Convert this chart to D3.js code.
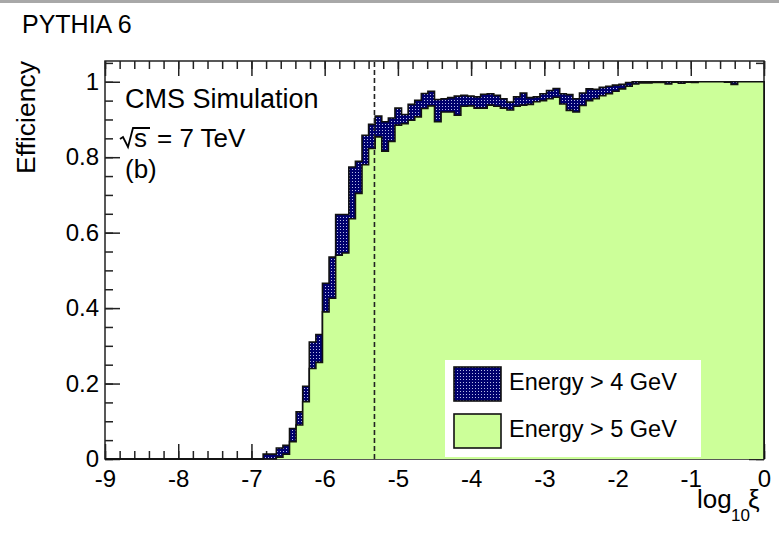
<!DOCTYPE html>
<html lang="en">
<head>
    <meta charset="UTF-8">
    <title>Efficiency vs log10 xi</title>
    <style>
        body { margin: 0; background: #fff; }
        svg text { font-family: "Liberation Sans", Arial, Helvetica, sans-serif; fill: #000; }
    </style>
</head>
<body>
<script src="https://d3js.org/d3.v7.min.js"></script>
<script>
    // binning of log10(xi): 100 bins from -9 to 0
    const binLow = -9;
    const binWidth = 0.09;

    // efficiency per bin, Energy > 4 GeV
    const eff4 = [
        0, 0, 0, 0, 0, 0, 0, 0, 0, 0,
        0, 0, 0, 0, 0, 0, 0, 0, 0, 0,
        0, 0, 0, 0, 0.013, 0.013, 0.029, 0.036, 0.081, 0.125,
        0.193, 0.310, 0.330, 0.466, 0.535, 0.648, 0.648, 0.774, 0.789, 0.858,
        0.887, 0.909, 0.894, 0.904, 0.930, 0.913, 0.940, 0.951, 0.969, 0.975,
        0.953, 0.955, 0.958, 0.962, 0.964, 0.962, 0.960, 0.967, 0.968, 0.964,
        0.955, 0.946, 0.960, 0.970, 0.958, 0.960, 0.968, 0.977, 0.982, 0.968,
        0.966, 0.955, 0.970, 0.981, 0.980, 0.985, 0.988, 0.991, 0.993, 0.998,
        1.000, 1.000, 1.000, 1.000, 1.000, 1.000, 1.000, 1.000, 1.000, 1.000,
        1.000, 1.000, 1.000, 1.000, 1.000, 1.000, 1.000, 1.000, 1.000, 1.000
    ];

    // efficiency per bin, Energy > 5 GeV
    const eff5 = [
        0, 0, 0, 0, 0, 0, 0, 0, 0, 0,
        0, 0, 0, 0, 0, 0, 0, 0, 0, 0,
        0, 0, 0, 0, 0, 0, 0.005, 0.013, 0.046, 0.090,
        0.152, 0.240, 0.256, 0.390, 0.426, 0.540, 0.546, 0.637, 0.704, 0.780,
        0.823, 0.854, 0.816, 0.842, 0.885, 0.889, 0.898, 0.907, 0.929, 0.936,
        0.894, 0.920, 0.920, 0.911, 0.935, 0.936, 0.930, 0.930, 0.938, 0.935,
        0.930, 0.925, 0.935, 0.938, 0.940, 0.947, 0.950, 0.955, 0.959, 0.941,
        0.924, 0.920, 0.937, 0.950, 0.955, 0.963, 0.968, 0.975, 0.981, 0.988,
        0.994, 0.997, 0.997, 0.998, 0.998, 0.994, 0.999, 0.996, 0.999, 0.998,
        1.000, 1.000, 1.000, 1.000, 0.999, 0.993, 1.000, 1.000, 1.000, 1.000
    ];

    const xMajorTicks = [-9, -8, -7, -6, -5, -4, -3, -2, -1, 0];
    const yMajorTicks = [0, 0.2, 0.4, 0.6, 0.8, 1];
    const yTickLabels = ["0", "0.2", "0.4", "0.6", "0.8", "1"];
    const seriesNames = ["Energy > 4 GeV", "Energy > 5 GeV"];
    const cutLine = -5.32;

    const width = 779, height = 534;
    const frame = {left: 105, right: 764, top: 61, bottom: 459};

    const svg = d3.select('body').append('svg')
        .attr('width', width)
        .attr('height', height);

    // thin grey strip at the very top (scan border)
    svg.append('rect').attr('x', 0).attr('y', 0).attr('width', width).attr('height', 3)
        .attr('fill', '#a8a8a8');

    const defs = svg.append('defs');
    const pat = defs.append('pattern')
        .attr('id', 'hatch')
        .attr('patternUnits', 'userSpaceOnUse')
        .attr('width', 3).attr('height', 3);
    pat.append('rect').attr('width', 3).attr('height', 3).attr('fill', '#00006e');
    pat.append('rect').attr('x', 1).attr('y', 1).attr('width', 1).attr('height', 1).attr('fill', '#b8bce8');

    const x = d3.scaleLinear().domain([-9, 0]).range([frame.left, frame.right]);
    const y = d3.scaleLinear().domain([0, 1.055]).range([frame.bottom, frame.top]);

    // frame
    svg.append('rect')
        .attr('x', frame.left).attr('y', frame.top)
        .attr('width', frame.right - frame.left).attr('height', frame.bottom - frame.top)
        .attr('fill', 'none').attr('stroke', '#222').attr('stroke-width', 1.5);

    // axes (ticks pointing inwards, ROOT style)
    const xMinor = d3.range(-9, 0.001, 0.2);
    const yMinor = d3.range(0, 1.051, 0.05);
    const fmtX = d => d === 0 ? '0' : '-' + Math.abs(d);

    const axes = svg.append('g');
    axes.append('g').attr('transform', `translate(0,${frame.bottom})`)
        .call(d3.axisBottom(x).tickValues(xMinor).tickSize(-8).tickFormat(''));
    axes.append('g').attr('transform', `translate(0,${frame.bottom})`)
        .call(d3.axisBottom(x).tickValues(xMajorTicks).tickSize(-15).tickPadding(11).tickFormat(fmtX));
    axes.append('g').attr('transform', `translate(0,${frame.top})`)
        .call(d3.axisTop(x).tickValues(xMinor).tickSize(-8).tickFormat(''));
    axes.append('g').attr('transform', `translate(0,${frame.top})`)
        .call(d3.axisTop(x).tickValues(xMajorTicks).tickSize(-15).tickFormat(''));
    axes.append('g').attr('transform', `translate(${frame.left},0)`)
        .call(d3.axisLeft(y).tickValues(yMinor).tickSize(-8).tickFormat(''));
    axes.append('g').attr('transform', `translate(${frame.left},0)`)
        .call(d3.axisLeft(y).tickValues(yMajorTicks).tickSize(-15).tickPadding(6)
            .tickFormat((d, i) => yTickLabels[i]));
    axes.append('g').attr('transform', `translate(${frame.right},0)`)
        .call(d3.axisRight(y).tickValues(yMinor).tickSize(-8).tickFormat(''));
    axes.append('g').attr('transform', `translate(${frame.right},0)`)
        .call(d3.axisRight(y).tickValues(yMajorTicks).tickSize(-15).tickFormat(''));

    axes.selectAll('.domain').remove();
    axes.selectAll('.tick line').attr('stroke', '#222').attr('stroke-width', 1.5);
    axes.selectAll('text')
        .attr('font-family', '"Liberation Sans", Arial, sans-serif')
        .attr('font-size', 24)
        .attr('fill', '#000');

    // step histograms
    function histPoints(vals) {
        const pts = [{e: binLow, v: 0}];
        vals.forEach((v, i) => pts.push({e: binLow + i * binWidth, v: v}));
        pts.push({e: 0, v: vals[vals.length - 1]});
        pts.push({e: 0, v: 0});
        return pts;
    }

    const area = d3.area().curve(d3.curveStepAfter)
        .x(d => x(d.e)).y0(y(0)).y1(d => y(d.v));
    const line = d3.line().curve(d3.curveStepAfter)
        .x(d => x(d.e)).y(d => y(d.v));

    const hists = [
        {vals: eff4, fill: 'url(#hatch)'},
        {vals: eff5, fill: '#ccff99'}
    ];

    const hg = svg.append('g');
    hists.forEach(h => {
        const pts = histPoints(h.vals);
        hg.append('path').attr('d', area(pts)).attr('fill', h.fill).attr('stroke', 'none');
        hg.append('path').attr('d', line(pts)).attr('fill', 'none')
            .attr('stroke', '#111').attr('stroke-width', 1.6);
    });

    // dashed cut line
    svg.append('line')
        .attr('x1', x(cutLine)).attr('x2', x(cutLine))
        .attr('y1', y(0)).attr('y2', frame.top)
        .attr('stroke', '#222').attr('stroke-width', 1.6)
        .attr('stroke-dasharray', '5,3');

    // texts
    svg.append('text').attr('x', 22).attr('y', 33).attr('font-size', 25).text('PYTHIA 6');

    svg.append('text')
        .attr('transform', 'translate(35,61) rotate(-90)')
        .attr('text-anchor', 'end')
        .attr('font-size', 26.5)
        .text('Efficiency');

    svg.append('text').attr('x', 125).attr('y', 108).attr('font-size', 27).text('CMS Simulation');

    // sqrt(s) = 7 TeV
    svg.append('path')
        .attr('d', 'M120,139 L123,137 L128,147 L133,128 L150,128')
        .attr('fill', 'none').attr('stroke', '#000').attr('stroke-width', 1.8);
    svg.append('text').attr('x', 134).attr('y', 147).attr('font-size', 26).text('s');
    svg.append('text').attr('x', 157).attr('y', 147).attr('font-size', 26).text('= 7 TeV');

    svg.append('text').attr('x', 125).attr('y', 178).attr('font-size', 26).text('(b)');

    // x axis title: log10 xi
    const xt = svg.append('g');
    xt.append('text').attr('x', 697).attr('y', 508).attr('font-size', 26).text('log');
    xt.append('text').attr('x', 731).attr('y', 521).attr('font-size', 17).text('10');
    xt.append('text').attr('x', 748).attr('y', 508).attr('font-size', 26).text('ξ');

    // legend
    const lg = svg.append('g');
    lg.append('rect').attr('x', 445).attr('y', 360).attr('width', 256).attr('height', 97).attr('fill', '#fff');
    hists.forEach((h, i) => {
        const yy = 367 + i * 47;
        lg.append('rect').attr('x', 454).attr('y', yy).attr('width', 47).attr('height', 34)
            .attr('fill', h.fill).attr('stroke', '#111').attr('stroke-width', 1.6);
        lg.append('text').attr('x', 509).attr('y', yy + 23).attr('font-size', 23.5).text(seriesNames[i]);
    });
</script>
</body>
</html>
